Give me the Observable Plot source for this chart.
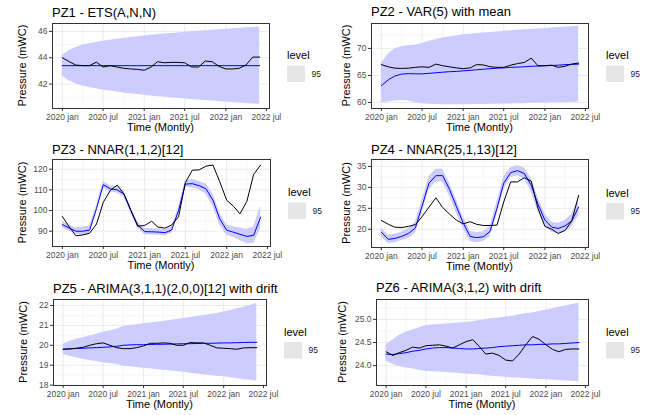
<!DOCTYPE html>
<html>
<head>
<meta charset="utf-8">
<script src="https://cdn.jsdelivr.net/npm/d3@7"></script>
<script src="https://cdn.jsdelivr.net/npm/@observablehq/plot@0.6"></script>
<style>
  body { margin: 0; background: #fff; }
  #chart { position: relative; width: 659px; height: 415px; overflow: hidden; background: #fff;
           font-family: "Liberation Sans", Arial, sans-serif; }
  #chart > svg { position: absolute; }
</style>
</head>
<body>
<div id="chart"></div>
<script>
// ---------- shared axis data ----------
const monthKeys = ["2020-01","2020-02","2020-03","2020-04","2020-05","2020-06","2020-07","2020-08","2020-09","2020-10","2020-11","2020-12",
                   "2021-01","2021-02","2021-03","2021-04","2021-05","2021-06","2021-07","2021-08","2021-09","2021-10","2021-11","2021-12",
                   "2022-01","2022-02","2022-03","2022-04","2022-05","2022-06"];
const xTickKeys = ["2020-01","2020-07","2021-01","2021-07","2022-01","2022-07"];
const xTickLabels = ["2020 jan","2020 jul","2021 jan","2021 jul","2022 jan","2022 jul"];
const xMinorKeys = ["2020-04","2020-10","2021-04","2021-10","2022-04"];
const xDomainKeys = ["2019-11-18","2022-07-15"];
const xTitle = "Time (Montly)";
const yTitle = "Pressure (mWC)";
const legendTitle = "level";
const legendLabel = "95";

// ---------- PZ1 ----------
const pz1Title = "PZ1 - ETS(A,N,N)";
const pz1Actual = [44.0,43.7,43.45,43.4,43.4,43.67,43.3,43.4,43.3,43.2,43.15,43.12,43.05,43.3,43.7,43.62,43.65,43.65,43.62,43.3,43.3,43.75,43.7,43.35,43.15,43.15,43.2,43.45,44.05,44.05];
const pz1Mean = [43.4,43.4,43.4,43.4,43.4,43.4,43.4,43.4,43.4,43.4,43.4,43.4,43.4,43.4,43.4,43.4,43.4,43.4,43.4,43.4,43.4,43.4,43.4,43.4,43.4,43.4,43.4,43.4,43.4,43.4];
const pz1Hi = [44.18,44.55,44.78,44.95,45.06,45.16,45.25,45.33,45.40,45.47,45.53,45.59,45.65,45.70,45.75,45.80,45.84,45.88,45.93,45.97,46.01,46.05,46.09,46.12,46.16,46.20,46.23,46.27,46.30,46.33];
const pz1Lo = [42.62,42.25,42.02,41.85,41.74,41.64,41.55,41.47,41.40,41.33,41.27,41.21,41.15,41.10,41.05,41.00,40.96,40.92,40.87,40.83,40.79,40.75,40.71,40.68,40.64,40.60,40.57,40.53,40.50,40.47];
const pz1YTicks = [42,44,46];
const pz1YMinor = [41,43,45];

// ---------- PZ2 ----------
const pz2Title = "PZ2 - VAR(5) with mean";
const pz2Actual = [67.0,66.6,66.35,66.3,66.35,66.5,66.6,66.5,67.1,66.8,66.6,66.4,66.25,66.4,67.0,66.95,66.6,66.5,66.5,66.9,67.2,67.4,68.2,66.8,66.8,66.9,66.5,66.7,67.1,67.3];
const pz2Mean = [63.1,64.2,64.9,65.25,65.35,65.3,65.3,65.4,65.5,65.6,65.7,65.75,65.85,65.95,66.05,66.15,66.25,66.35,66.4,66.5,66.55,66.6,66.7,66.75,66.8,66.85,66.9,67.0,67.05,67.1];
const pz2Hi = [67.2,68.9,69.9,70.3,70.5,70.6,70.9,71.3,71.6,71.9,72.1,72.3,72.5,72.6,72.75,72.85,72.95,73.05,73.15,73.25,73.35,73.45,73.5,73.6,73.65,73.75,73.85,73.9,74.0,74.1];
const pz2Lo = [60.0,60.1,60.3,60.4,60.3,60.0,59.8,59.7,59.65,59.6,59.6,59.6,59.6,59.6,59.65,59.65,59.7,59.7,59.75,59.75,59.8,59.8,59.85,59.9,59.9,59.95,60.0,60.0,60.05,60.1];
const pz2YTicks = [60,65,70];
const pz2YMinor = [62.5,67.5,72.5];

// ---------- PZ3 ----------
const pz3Title = "PZ3 - NNAR(1,1,2)[12]";
const pz3Actual = [97.1,92,87.8,88.2,89,93.5,104,109.7,112.3,108,100,92.4,92.8,94.8,92,91.5,93,97,113.5,119.5,119.7,121.5,122,114,105,102,98.4,104.5,117.5,122];
const pz3Mean = [93.2,91.5,90,90,90.5,101,112.5,110.5,110,108,100,93,89.8,89.7,89.6,89.3,90.5,100,112.8,113,112,110.5,105,96,90.5,89.5,88.5,87.5,88,96.8];
const pz3Hi = [94.7,93,91.5,92,92.5,102.5,114,112,111.5,109.5,101.5,94.5,91.3,91.2,91.1,90.8,92,101.5,114.3,115,114,113,108,99,93,92,91.5,91,92,102.3];
const pz3Lo = [91.7,90,88.5,88,88.5,99.5,111,109,108.5,106.5,98.5,91.5,88.3,88.2,88.1,87.8,89,98.5,111.3,111,110,108,102,93,88,87,85.5,84,84,91.3];
const pz3YTicks = [90,100,110,120];
const pz3YMinor = [85,95,105,115];

// ---------- PZ4 ----------
const pz4Title = "PZ4 - NNAR(25,1,13)[12]";
const pz4Actual = [22.1,21.2,20.5,20.4,20.7,21.1,23.0,25.3,27.5,25.2,23.6,22.2,21.3,21.8,21.2,20.9,20.9,21.0,26.5,31.3,31.3,32.3,31.5,25.0,20.7,20.0,19.0,19.7,22.0,28.1];
const pz4Mean = [19.3,17.6,17.8,18.3,19.0,20.3,25.5,31.0,32.8,32.8,29.5,25.5,21.5,18.3,18.0,18.2,19.5,25.0,31.0,33.5,34.0,33.3,30.5,26.0,22.2,20.5,20.2,20.8,22.0,25.3];
const pz4Hi = [20.3,18.6,18.8,19.3,20.2,21.6,27.0,32.6,34.3,34.3,31.1,27.1,22.9,19.5,19.2,19.4,20.8,26.5,32.5,34.7,35.2,34.6,32.1,27.7,23.7,21.7,21.4,22.1,23.5,27.3];
const pz4Lo = [18.3,16.6,16.8,17.3,17.8,19.0,24.0,29.4,31.3,31.3,27.9,23.9,20.1,17.1,16.8,17.0,18.2,23.5,29.5,32.3,32.8,32.0,28.9,24.3,20.7,19.3,19.0,19.5,20.5,23.3];
const pz4YTicks = [20,25,30,35];
const pz4YMinor = [17.5,22.5,27.5,32.5];

// ---------- PZ5 ----------
const pz5Title = "PZ5 - ARIMA(3,1,1)(2,0,0)[12] with drift";
const pz5Actual = [19.8,19.82,19.85,19.9,20.0,20.08,20.12,20.0,19.88,19.83,19.83,19.88,19.97,20.1,20.1,20.12,20.1,20.0,20.0,20.14,20.12,20.12,20.0,19.87,19.85,19.83,19.8,19.87,19.88,19.88];
const pz5Mean = [19.8,19.82,19.84,19.85,19.87,19.88,19.9,19.92,19.95,20.0,20.02,20.03,20.03,20.04,20.05,20.05,20.06,20.07,20.08,20.08,20.09,20.1,20.1,20.11,20.12,20.12,20.13,20.14,20.15,20.15];
const pz5Hi = [20.05,20.2,20.3,20.38,20.47,20.56,20.65,20.72,20.8,20.95,21.0,21.02,21.08,21.12,21.16,21.2,21.25,21.3,21.35,21.4,21.45,21.5,21.55,21.6,21.67,21.75,21.83,21.9,22.0,22.1];
const pz5Lo = [19.55,19.45,19.38,19.3,19.24,19.18,19.12,19.08,19.05,18.95,18.92,18.88,18.85,18.82,18.78,18.75,18.72,18.68,18.65,18.6,18.56,18.52,18.48,18.45,18.42,18.38,18.33,18.28,18.24,18.2];
const pz5YTicks = [18,19,20,21,22];
const pz5YMinor = [18.5,19.5,20.5,21.5];

// ---------- PZ6 ----------
const pz6Title = "PZ6 - ARIMA(3,1,2) with drift";
const pz6Actual = [24.3,24.22,24.28,24.33,24.4,24.38,24.43,24.44,24.45,24.42,24.38,24.45,24.52,24.56,24.42,24.25,24.27,24.22,24.12,24.1,24.25,24.45,24.63,24.57,24.45,24.35,24.3,24.35,24.36,24.36];
const pz6Mean = [24.25,24.24,24.26,24.28,24.31,24.33,24.36,24.38,24.39,24.39,24.38,24.37,24.36,24.36,24.37,24.38,24.39,24.41,24.42,24.43,24.44,24.45,24.45,24.46,24.46,24.47,24.47,24.48,24.49,24.5];
const pz6Hi = [24.45,24.55,24.65,24.72,24.77,24.82,24.86,24.88,24.89,24.9,24.91,24.92,24.93,24.95,24.97,25.0,25.02,25.03,25.05,25.07,25.1,25.12,25.14,25.17,25.2,25.23,25.26,25.29,25.32,25.35];
const pz6Lo = [24.1,24.03,23.98,23.95,23.93,23.9,23.88,23.87,23.86,23.85,23.84,23.83,23.82,23.81,23.8,23.78,23.77,23.76,23.75,23.74,23.73,23.72,23.71,23.7,23.7,23.69,23.68,23.67,23.66,23.65];
const pz6YTicks = [24.0,24.5,25.0];
const pz6YMinor = [23.75,24.25,24.75,25.25];

// ---------- layout (pixels) ----------
const panels = [
  {title: pz1Title, actual: pz1Actual, mean: pz1Mean, lo: pz1Lo, hi: pz1Hi, yDomain: [40.15, 46.6], yTicks: pz1YTicks, yMinor: pz1YMinor, fmt: d3.format("d"),
   box: {x0: 52, y0: 23, x1: 269, y1: 108}, titleY: 16.6, yTitleX: 26},
  {title: pz2Title, actual: pz2Actual, mean: pz2Mean, lo: pz2Lo, hi: pz2Hi, yDomain: [58.9, 74.6], yTicks: pz2YTicks, yMinor: pz2YMinor, fmt: d3.format("d"),
   box: {x0: 371, y0: 23, x1: 588, y1: 108}, titleY: 16.4, yTitleX: 350},
  {title: pz3Title, actual: pz3Actual, mean: pz3Mean, lo: pz3Lo, hi: pz3Hi, yDomain: [82.6, 124.7], yTicks: pz3YTicks, yMinor: pz3YMinor, fmt: d3.format("d"),
   box: {x0: 52, y0: 159, x1: 270, y1: 246}, titleY: 154, yTitleX: 26},
  {title: pz4Title, actual: pz4Actual, mean: pz4Mean, lo: pz4Lo, hi: pz4Hi, yDomain: [15.65, 36.65], yTicks: pz4YTicks, yMinor: pz4YMinor, fmt: d3.format("d"),
   box: {x0: 371, y0: 159, x1: 588, y1: 247}, titleY: 154.3, yTitleX: 350},
  {title: pz5Title, actual: pz5Actual, mean: pz5Mean, lo: pz5Lo, hi: pz5Hi, yDomain: [17.98, 22.3], yTicks: pz5YTicks, yMinor: pz5YMinor, fmt: d3.format("d"),
   box: {x0: 53, y0: 299, x1: 266, y1: 385}, titleY: 292.5, yTitleX: 27},
  {title: pz6Title, actual: pz6Actual, mean: pz6Mean, lo: pz6Lo, hi: pz6Hi, yDomain: [23.57, 25.43], yTicks: pz6YTicks, yMinor: pz6YMinor, fmt: d3.format(".1f"),
   box: {x0: 376, y0: 299, x1: 588, y1: 385}, titleY: 292, yTitleX: 346}
];

const parseKey = k => new Date(k.length === 7 ? k + "-01T00:00:00Z" : k + "T00:00:00Z");
const months = monthKeys.map(parseKey);
const xTicks = xTickKeys.map(parseKey);
const xMinor = xMinorKeys.map(parseKey);
const xDomain = xDomainKeys.map(parseKey);
const tickFmt = d => xTickLabels[xTicks.findIndex(t => +t === +d)];

const FONT = "Liberation Sans, Arial, sans-serif";
const chart = document.getElementById("chart");
const ML = 40, MR = 4, MT = 4, MB = 30;

for (const p of panels) {
  const b = p.box;
  const data = months.map((d, i) => ({date: d, actual: p.actual[i], mean: p.mean[i], lo: p.lo[i], hi: p.hi[i]}));
  const svg = Plot.plot({
    width: (b.x1 - b.x0) + ML + MR,
    height: (b.y1 - b.y0) + MT + MB,
    marginLeft: ML, marginRight: MR, marginTop: MT, marginBottom: MB,
    x: {type: "utc", domain: xDomain},
    y: {domain: p.yDomain},
    style: {fontFamily: FONT, fontSize: "8.5px", background: "transparent", overflow: "visible"},
    marks: [
      Plot.ruleX(xMinor, {stroke: "#F2F2F2", strokeWidth: 0.6}),
      Plot.ruleY(p.yMinor, {stroke: "#F2F2F2", strokeWidth: 0.6}),
      Plot.ruleX(xTicks.slice(0, 5), {stroke: "#EBEBEB", strokeWidth: 1}),
      Plot.ruleY(p.yTicks, {stroke: "#EBEBEB", strokeWidth: 1}),
      Plot.areaY(data, {x: "date", y1: "lo", y2: "hi", fill: "#CCCCFF"}),
      Plot.lineY(data, {x: "date", y: "mean", stroke: "#0000FF", strokeWidth: 1}),
      Plot.lineY(data, {x: "date", y: "actual", stroke: "#000000", strokeWidth: 1}),
      Plot.frame({stroke: "#333333", strokeWidth: 1}),
      Plot.axisX({ticks: xTicks, tickFormat: tickFmt, tickSize: 3, tickPadding: 2, label: null, stroke: "#333333", fill: "#4D4D4D"}),
      Plot.axisY({ticks: p.yTicks, tickFormat: p.fmt, tickSize: 3, tickPadding: 2, label: null, stroke: "#333333", fill: "#4D4D4D"})
    ]
  });
  svg.style.left = (b.x0 - ML) + "px";
  svg.style.top = (b.y0 - MT) + "px";
  chart.appendChild(svg);
}

// ---------- text overlay: titles, axis titles, legends ----------
const overlay = d3.select(chart).append("svg")
  .attr("width", 659).attr("height", 415)
  .style("left", "0px").style("top", "0px")
  .style("pointer-events", "none")
  .style("font-family", FONT);

for (const p of panels) {
  const b = p.box;
  const cy = (b.y0 + b.y1) / 2;
  overlay.append("text").attr("x", b.x0).attr("y", p.titleY)
    .attr("font-size", 13).attr("fill", "#000").text(p.title);
  overlay.append("text").attr("x", (b.x0 + b.x1) / 2).attr("y", b.y1 + 23)
    .attr("font-size", 11).attr("text-anchor", "middle").attr("fill", "#000").text(xTitle);
  overlay.append("text").attr("transform", `translate(${p.yTitleX},${cy}) rotate(-90)`)
    .attr("font-size", 11).attr("text-anchor", "middle").attr("fill", "#000").text(yTitle);
  const lx = b.x1 + 18;
  overlay.append("text").attr("x", lx).attr("y", cy - 6.5)
    .attr("font-size", 11).attr("fill", "#000").text(legendTitle);
  overlay.append("rect").attr("x", lx).attr("y", cy).attr("width", 18).attr("height", 16.5)
    .attr("fill", "#E6E6E6");
  overlay.append("text").attr("x", lx + 24.5).attr("y", cy + 11.3)
    .attr("font-size", 8.5).attr("fill", "#1A1A1A").text(legendLabel);
}
</script>
</body>
</html>
